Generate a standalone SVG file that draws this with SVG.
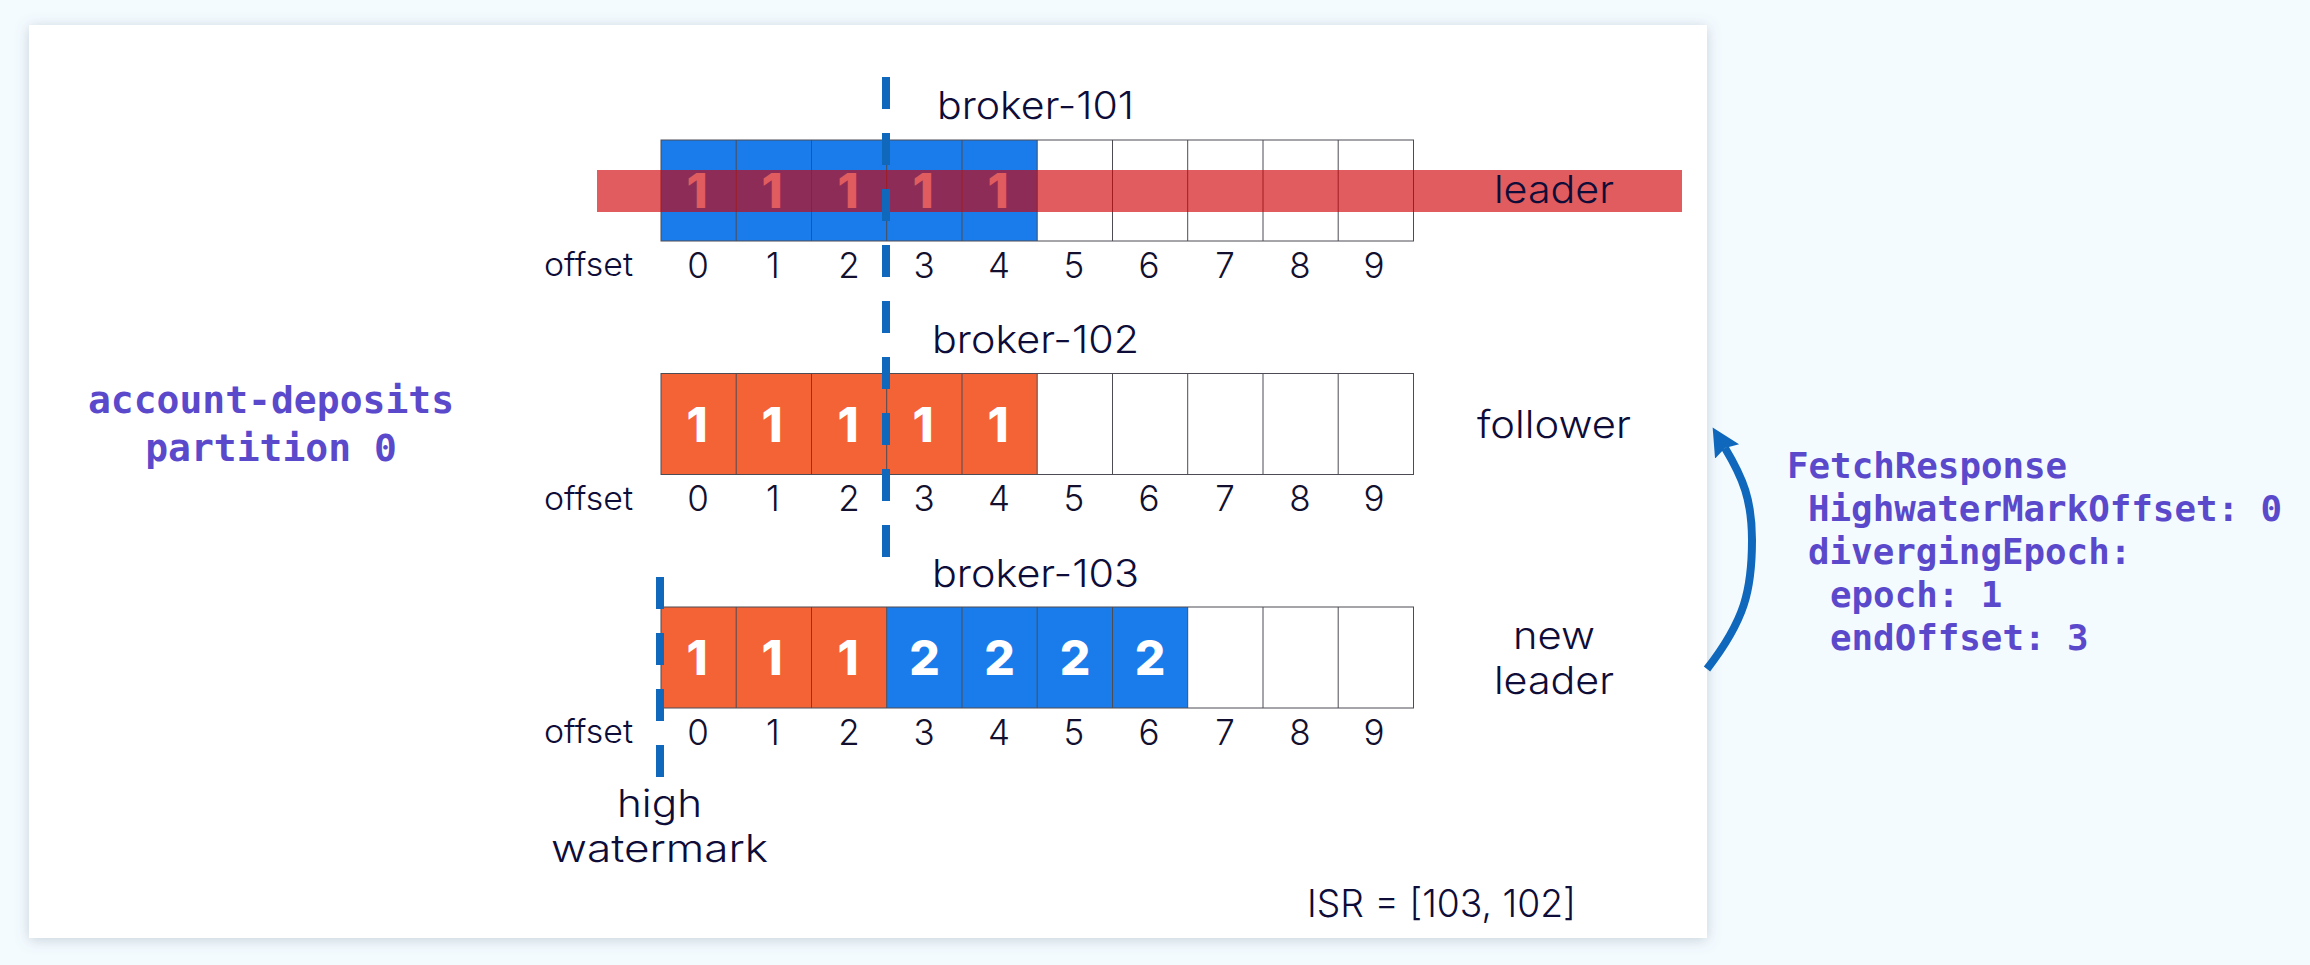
<svg xmlns="http://www.w3.org/2000/svg" width="2310" height="965" viewBox="0 0 2310 965">
<style>
.t{font-family:Inter,"Open Sans","Liberation Sans",sans-serif;fill:#0e0c38}
.lab{font-size:38px;font-weight:300}
.off{font-size:33px;font-weight:300}
.dig{font-size:35px;font-weight:300;text-anchor:middle;fill:#12102e}
.val{font-family:Inter,"Open Sans","Liberation Sans",sans-serif;font-size:48px;font-weight:800;fill:#fff;text-anchor:middle}
.m{font-family:"DejaVu Sans Mono","Liberation Mono",monospace;font-weight:700;fill:#5b49cc}
.m36{font-size:35.8px}
.m38{font-size:38px}
.o{fill:#f46336}.b{fill:#1a7ceb}.w{fill:#fff}
.g{fill:none;stroke:#4c4c54;stroke-width:1}
.dash{fill:none;stroke:#1068bd;stroke-width:8;stroke-dasharray:32 24}
</style>
<defs>
<filter id="sh" x="-5%" y="-5%" width="110%" height="110%"><feDropShadow dx="0" dy="2" stdDeviation="7" flood-color="#5a7080" flood-opacity="0.3"/></filter>
<marker id="ah" markerUnits="userSpaceOnUse" markerWidth="32" markerHeight="32" refX="4" refY="14" orient="auto"><path d="M0 0L28 14L0 28L4 14z" fill="#1068bd"/></marker>
<g id="grid"><rect class="g" x="661" y="0" width="752.5" height="101"/><path class="g" d="M736.2 0v101M811.5 0v101M886.7 0v101M962 0v101M1037.2 0v101M1112.5 0v101M1187.7 0v101M1263 0v101M1338.2 0v101"/></g>
<g id="digits"><text class="t dig" x="698" y="0">0</text><text class="t dig" x="773" y="0">1</text><text class="t dig" x="849" y="0">2</text><text class="t dig" x="924" y="0">3</text><text class="t dig" x="999" y="0">4</text><text class="t dig" x="1074" y="0">5</text><text class="t dig" x="1149" y="0">6</text><text class="t dig" x="1225" y="0">7</text><text class="t dig" x="1300" y="0">8</text><text class="t dig" x="1374" y="0">9</text></g>
</defs>
<rect width="2310" height="965" fill="#f4fbff"/>
<rect id="card" x="29" y="25" width="1678" height="913" fill="#fff" filter="url(#sh)"/>
<g id="topic"><text class="m m38" x="271" y="413" text-anchor="middle">account-deposits</text><text class="m m38" x="271" y="461" text-anchor="middle">partition 0</text></g>
<g id="broker-101">
<rect class="b" x="661" y="140" width="376.2" height="101"/>
<use href="#grid" y="140"/>
<text class="val" x="697" y="208">1</text><text class="val" x="772" y="208">1</text><text class="val" x="848" y="208">1</text><text class="val" x="923" y="208">1</text><text class="val" x="998" y="208">1</text>
<text class="t lab" x="937" y="119" textLength="197" lengthAdjust="spacingAndGlyphs">broker-101</text>
<text class="t off" x="544" y="276" textLength="89" lengthAdjust="spacingAndGlyphs">offset</text>
<use href="#digits" y="277.5"/>
<rect x="597" y="170" width="1085" height="42" fill="#ce0003" fill-opacity="0.64"/>
<text class="t lab" x="1494" y="203" textLength="120" lengthAdjust="spacingAndGlyphs">leader</text>
</g>
<g id="broker-102">
<rect class="o" x="661" y="373.5" width="376.2" height="101"/>
<use href="#grid" y="373.5"/>
<text class="val" x="697" y="441.5">1</text><text class="val" x="772" y="441.5">1</text><text class="val" x="848" y="441.5">1</text><text class="val" x="923" y="441.5">1</text><text class="val" x="998" y="441.5">1</text>
<text class="t lab" x="932" y="353" textLength="207" lengthAdjust="spacingAndGlyphs">broker-102</text>
<text class="t off" x="544" y="510" textLength="89" lengthAdjust="spacingAndGlyphs">offset</text>
<use href="#digits" y="511"/>
<text class="t lab" x="1477" y="438" textLength="154" lengthAdjust="spacingAndGlyphs">follower</text>
</g>
<g id="broker-103">
<rect class="o" x="661" y="607" width="225.7" height="101"/>
<rect class="b" x="886.7" y="607" width="301" height="101"/>
<use href="#grid" y="607"/>
<text class="val" x="697" y="675">1</text><text class="val" x="772" y="675">1</text><text class="val" x="848" y="675">1</text><text class="val" x="924.5" y="675">2</text><text class="val" x="999.5" y="675">2</text><text class="val" x="1075" y="675">2</text><text class="val" x="1150" y="675">2</text>
<text class="t lab" x="932" y="587" textLength="207" lengthAdjust="spacingAndGlyphs">broker-103</text>
<text class="t off" x="544" y="743" textLength="89" lengthAdjust="spacingAndGlyphs">offset</text>
<use href="#digits" y="744.5"/>
<text class="t lab" x="1513" y="649" textLength="82" lengthAdjust="spacingAndGlyphs">new</text>
<text class="t lab" x="1494" y="694" textLength="120" lengthAdjust="spacingAndGlyphs">leader</text>
</g>
<g id="high-watermark"><text class="t lab" x="617" y="817" textLength="85" lengthAdjust="spacingAndGlyphs">high</text><text class="t lab" x="551" y="862" textLength="217" lengthAdjust="spacingAndGlyphs">watermark</text></g>
<g id="isr"><text class="t lab" x="1307" y="917" textLength="269" lengthAdjust="spacingAndGlyphs">ISR = [103, 102]</text></g>
<g id="fetch-response">
<text class="m m36" x="1787" y="478">FetchResponse</text>
<text class="m m36" x="1808" y="521">HighwaterMarkOffset: 0</text>
<text class="m m36" x="1808" y="564">divergingEpoch:</text>
<text class="m m36" x="1830" y="607">epoch: 1</text>
<text class="m m36" x="1830" y="650">endOffset: 3</text>
</g>
<g id="connectors">
<path class="dash" d="M886 77V557"/>
<path class="dash" d="M660 577V777"/>
<path d="M1707 669C1745 620 1752 590 1752 540C1752 500 1743 478 1725 448" fill="none" stroke="#1068bd" stroke-width="8" marker-end="url(#ah)"/>
</g>
</svg>
